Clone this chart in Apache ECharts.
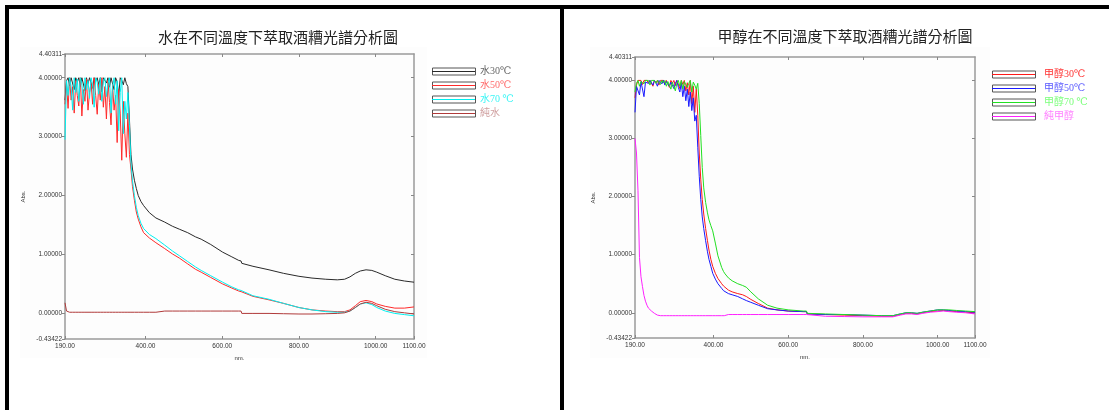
<!DOCTYPE html>
<html>
<head>
<meta charset="utf-8">
<script src="https://cdn.jsdelivr.net/npm/echarts@6/dist/echarts.min.js"></script>
<style>
html,body{margin:0;padding:0;background:#fff;}
#c{width:1109px;height:410px;}
</style>
</head>
<body>
<div id="c"></div>
<script>
// ---------- DATA ----------
const titleLeft = '水在不同溫度下萃取酒糟光譜分析圖';
const titleRight = '甲醇在不同溫度下萃取酒糟光譜分析圖';
const namesLeft = ['水30℃', '水50℃', '水70 ℃', '純水'];
const namesRight = ['甲醇30℃', '甲醇50℃', '甲醇70 ℃', '純甲醇'];
const xTickValues = [190, 400, 600, 800, 1000, 1100];
const yTickValues = [-0.43422, 0, 1, 2, 3, 4, 4.40311];
const xMin = 190, xMax = 1100, yMin = -0.43422, yMax = 4.40311;

// wavelength grid (nm) of the saturated / noisy region, shared by both panels
const waveNoise = [190,194,198,202,206,210,214,218,222,226,230,234,238,242,246,250,254,258,262,266,270,274,278,282,286,290,294,298,302,306,310,314,318,322,326,330,334,338,342,346,350,354];
// wavelength grids of the decaying part
const waveTailL = [358,362,366,371,376,381,388,395,410,427,429,431,450,470,488,510,530,545,570,601,625,643,649,651,680,722,760,800,834,870,900,919,933,947,960,975,990,1003,1025,1050,1075,1100];
const waveTailR = [358,362,366,370,374,379,384,388,393,398,405,412,422,427,429,431,440,450,465,478,488,500,520,545,570,600,640,649,651,700,750,800,850,880,900,915,930,945,960,980,1000,1015,1030,1050,1075,1100];

// left panel: water extraction
const water30Noise = [3.62,3.95,4.00,3.86,4.00,3.98,3.80,4.00,3.93,4.00,3.85,4.00,3.97,3.78,4.00,3.90,4.00,3.99,3.82,4.00,3.95,4.00,3.88,4.00,3.76,4.00,3.97,3.91,4.00,3.84,4.00,3.99,3.80,4.00,3.93,3.70,4.00,3.96,3.88,4.00,3.90,3.85];
const water30Tail = [3.30,2.70,2.45,2.26,2.12,2.00,1.90,1.83,1.71,1.62,1.61,1.60,1.55,1.48,1.43,1.37,1.30,1.26,1.17,1.04,0.96,0.90,0.89,0.85,0.80,0.74,0.68,0.63,0.60,0.58,0.57,0.58,0.62,0.68,0.72,0.74,0.73,0.70,0.64,0.58,0.55,0.53];
const water50Noise = [3.55,3.90,3.48,4.00,3.62,3.85,3.40,3.95,3.70,3.52,4.00,3.35,3.80,3.60,3.98,3.45,3.75,3.92,3.55,4.00,3.70,3.38,3.90,3.62,4.00,3.50,3.85,3.30,3.95,3.58,3.20,3.88,3.45,3.70,2.90,3.80,3.40,2.60,3.60,3.05,2.65,3.40];
const water50Tail = [2.70,2.45,2.15,1.92,1.72,1.60,1.47,1.37,1.28,1.20,1.19,1.18,1.10,1.01,0.94,0.84,0.75,0.70,0.61,0.50,0.43,0.38,0.37,0.34,0.29,0.23,0.17,0.10,0.06,0.04,0.03,0.03,0.06,0.13,0.20,0.22,0.20,0.16,0.12,0.09,0.09,0.11];
const water70Noise = [2.95,3.95,3.70,4.00,3.85,3.45,4.00,3.75,3.98,3.60,4.00,3.90,3.55,4.00,3.80,3.95,3.65,4.00,3.88,3.50,4.00,3.92,3.72,4.00,3.60,3.95,4.00,3.68,3.90,4.00,3.40,3.85,4.00,3.55,3.95,3.10,3.75,4.00,3.05,3.60,3.30,3.75];
const water70Tail = [3.20,2.55,2.25,2.00,1.80,1.66,1.53,1.44,1.34,1.27,1.26,1.25,1.16,1.06,0.98,0.88,0.79,0.73,0.64,0.53,0.45,0.40,0.39,0.36,0.30,0.24,0.17,0.10,0.06,0.03,0.02,0.02,0.04,0.10,0.16,0.18,0.15,0.10,0.04,0.00,-0.02,-0.04];
const pureWaterNoise = [0.18,0.04,0.03,0.02,0.02,0.02,0.02,0.02,0.02,0.02,0.02,0.02,0.02,0.02,0.02,0.02,0.02,0.02,0.02,0.02,0.02,0.02,0.02,0.02,0.02,0.02,0.02,0.02,0.02,0.02,0.02,0.02,0.02,0.02,0.02,0.02,0.02,0.02,0.02,0.02,0.02,0.02];
const pureWaterTail = [0.02,0.02,0.02,0.02,0.02,0.02,0.02,0.02,0.02,0.02,0.02,0.04,0.04,0.04,0.04,0.04,0.04,0.04,0.04,0.04,0.04,0.04,0.04,0.00,0.00,0.00,-0.005,-0.01,-0.01,-0.005,0.00,0.01,0.04,0.10,0.16,0.19,0.17,0.13,0.07,0.03,0.01,-0.01];

// right panel: methanol extraction
const meth30Noise = [3.70,3.92,4.00,3.97,4.00,3.93,4.00,3.98,4.00,3.95,4.00,3.99,3.90,4.00,3.96,4.00,3.92,4.00,3.98,4.00,3.94,4.00,3.97,3.88,4.00,3.95,4.00,3.91,4.00,3.97,3.86,4.00,3.93,4.00,3.82,3.96,3.75,4.00,3.60,3.90,3.45,3.85];
const meth30Tail = [3.40,2.75,2.30,1.95,1.70,1.45,1.24,1.08,0.92,0.80,0.68,0.59,0.50,0.46,0.45,0.43,0.39,0.36,0.33,0.31,0.28,0.23,0.16,0.08,0.05,0.03,0.02,0.02,-0.02,-0.03,-0.04,-0.05,-0.06,-0.06,-0.03,-0.01,-0.01,-0.02,0.00,0.02,0.03,0.04,0.03,0.02,0.01,0.00];
const meth50Noise = [3.45,3.90,3.88,3.75,3.98,4.00,3.72,3.97,4.00,3.95,4.00,3.98,3.92,4.00,3.96,3.90,4.00,3.97,3.94,4.00,3.92,3.98,4.00,3.90,3.97,4.00,3.86,3.95,4.00,3.88,3.80,3.96,3.72,3.90,3.65,3.85,3.55,3.80,3.48,3.70,3.30,3.40];
const meth50Tail = [2.85,2.35,1.95,1.65,1.45,1.24,1.05,0.92,0.80,0.68,0.58,0.50,0.42,0.38,0.37,0.36,0.33,0.31,0.28,0.24,0.21,0.18,0.13,0.07,0.05,0.03,0.02,0.02,-0.02,-0.03,-0.03,-0.04,-0.05,-0.05,-0.02,0.00,0.00,-0.01,0.01,0.03,0.05,0.05,0.04,0.03,0.02,0.01];
const meth70Noise = [3.80,3.95,4.00,3.90,3.98,4.00,3.94,4.00,3.97,4.00,3.92,4.00,3.98,4.00,3.95,4.00,3.99,3.93,4.00,3.96,4.00,3.90,3.98,4.00,3.85,3.97,4.00,3.82,3.95,4.00,3.90,4.00,3.85,3.98,4.00,3.88,3.95,4.00,3.80,3.97,3.92,3.85];
const meth70Tail = [3.95,3.60,3.05,2.50,2.15,1.90,1.72,1.60,1.50,1.41,1.20,0.98,0.78,0.71,0.69,0.67,0.60,0.55,0.50,0.47,0.44,0.36,0.24,0.13,0.08,0.05,0.03,0.03,-0.01,-0.02,-0.03,-0.04,-0.05,-0.05,-0.02,0.00,0.00,-0.01,0.01,0.03,0.05,0.05,0.05,0.04,0.03,0.02];
const pureMethNoise = [3.00,2.75,2.10,0.95,0.62,0.45,0.30,0.20,0.13,0.08,0.05,0.03,0.01,-0.01,-0.03,-0.04,-0.045,-0.05,-0.05,-0.05,-0.05,-0.05,-0.05,-0.05,-0.05,-0.05,-0.05,-0.05,-0.05,-0.05,-0.05,-0.05,-0.05,-0.05,-0.05,-0.05,-0.05,-0.05,-0.05,-0.05,-0.05,-0.05];
const pureMethTail = [-0.05,-0.05,-0.05,-0.05,-0.05,-0.05,-0.05,-0.05,-0.05,-0.05,-0.05,-0.05,-0.05,-0.05,-0.05,-0.03,-0.03,-0.03,-0.03,-0.03,-0.03,-0.03,-0.03,-0.03,-0.03,-0.03,-0.03,-0.03,-0.06,-0.06,-0.065,-0.07,-0.07,-0.07,-0.04,-0.02,-0.02,-0.03,-0.01,0.01,0.02,0.03,0.02,0.01,0.00,-0.02];

// ---------- STYLE ----------
const lineColorsL = ['#2a2a2a', '#ff2a2a', '#00f0f0', '#b03a3a'];
const textColorsL = ['#666666', '#ff6a6a', '#3cf5f5', '#d0a0a0'];
const lineColorsR = ['#ff1a1a', '#1a1aff', '#22e022', '#ff22ff'];
const textColorsR = ['#ff3030', '#5a5aff', '#7aff7a', '#ff80ff'];

const cjk = '"Noto Sans CJK TC", "Noto Sans CJK SC", sans-serif';
const serif = '"Liberation Serif", "DejaVu Serif", "Noto Sans CJK TC", serif';
const tickFont = '"Liberation Sans", Arial, sans-serif';
const axisGrey = '#9a9a9a';

function pairs(xs, ys) { return xs.map((x, i) => [x, ys[i]]); }

const panels = [
  { grid: {left: 65, top: 54, width: 349, height: 285}, title: titleLeft, titleX: 278, titleY: 30,
    names: namesLeft, colors: lineColorsL, textColors: textColorsL, legendX: 432, legendY: 65.5, textPad: 0,
    tail: waveTailL,
    values: [water30Noise.concat(water30Tail), water50Noise.concat(water50Tail), water70Noise.concat(water70Tail), pureWaterNoise.concat(pureWaterTail)],
    nameGapY: 39, nameGapX: 14 },
  { grid: {left: 635, top: 57, width: 340, height: 281}, title: titleRight, titleX: 845, titleY: 29,
    names: namesRight, colors: lineColorsR, textColors: textColorsR, legendX: 992, legendY: 68.5, textPad: 4,
    tail: waveTailR,
    values: [meth30Noise.concat(meth30Tail), meth50Noise.concat(meth50Tail), meth70Noise.concat(meth70Tail), pureMethNoise.concat(pureMethTail)],
    nameGapY: 39, nameGapX: 12 }
];

const option = {
  animation: false,
  backgroundColor: '#ffffff',
  title: [], grid: [], xAxis: [], yAxis: [], legend: [], series: [],
  graphic: [
    {type: 'rect', z: -10, shape: {x: 20, y: 47, width: 407, height: 311}, style: {fill: '#fdfdfd'}, silent: true},
    {type: 'rect', z: -10, shape: {x: 590, y: 47, width: 400, height: 311}, style: {fill: '#fdfdfd'}, silent: true},
    {type: 'rect', z: 100, shape: {x: 5, y: 5, width: 1104, height: 4}, style: {fill: '#000'}, silent: true},
    {type: 'rect', z: 100, shape: {x: 5, y: 5, width: 4, height: 405}, style: {fill: '#000'}, silent: true},
    {type: 'rect', z: 100, shape: {x: 560, y: 5, width: 4, height: 405}, style: {fill: '#000'}, silent: true}
  ]
};

panels.forEach((p, k) => {
  option.title.push({
    text: p.title, left: p.titleX, top: p.titleY, textAlign: 'center', padding: 0,
    textStyle: {fontFamily: cjk, fontSize: 15, fontWeight: 'normal', color: '#222'}
  });
  option.grid.push(Object.assign({containLabel: false}, p.grid));
  const lineSt = {color: axisGrey, width: 1.5};
  option.xAxis.push({
    gridIndex: k, type: 'value', min: xMin, max: xMax, position: 'bottom',
    axisLine: {show: true, onZero: false, lineStyle: lineSt},
    axisTick: {show: true, inside: true, length: 3, customValues: xTickValues, lineStyle: {color: '#888', width: 1}},
    axisLabel: {show: true, customValues: xTickValues, formatter: v => Number(v).toFixed(2), fontSize: 6.5, fontFamily: tickFont, color: '#333', margin: 4},
    splitLine: {show: false},
    name: 'nm.', nameLocation: 'middle', nameGap: p.nameGapX, nameTextStyle: {fontSize: 6, fontFamily: tickFont, color: '#333'}
  });
  option.xAxis.push({
    gridIndex: k, type: 'value', min: xMin, max: xMax, position: 'top',
    axisLine: {show: true, onZero: false, lineStyle: lineSt},
    axisTick: {show: true, inside: true, length: 3, customValues: [190, 400, 600, 800, 1000], lineStyle: {color: '#888', width: 1}},
    axisLabel: {show: false}, splitLine: {show: false}
  });
  option.yAxis.push({
    gridIndex: k, type: 'value', min: yMin, max: yMax, position: 'left',
    axisLine: {show: true, onZero: false, lineStyle: lineSt},
    axisTick: {show: true, inside: false, length: 3, customValues: yTickValues, lineStyle: {color: '#888', width: 1}},
    axisLabel: {show: true, customValues: yTickValues, formatter: v => Number(v).toFixed(5), fontSize: 6.5, fontFamily: tickFont, color: '#333', margin: 3},
    splitLine: {show: false},
    name: 'Abs.', nameLocation: 'middle', nameGap: p.nameGapY, nameRotate: 90, nameTextStyle: {fontSize: 6, fontFamily: tickFont, color: '#333'}
  });
  option.yAxis.push({
    gridIndex: k, type: 'value', min: yMin, max: yMax, position: 'right',
    axisLine: {show: true, onZero: false, lineStyle: lineSt},
    axisTick: {show: true, inside: true, length: 3, customValues: [0, 1, 2, 3, 4], lineStyle: {color: '#888', width: 1}},
    axisLabel: {show: false}, splitLine: {show: false}
  });
  // legend frames
  option.legend.push({
    orient: 'vertical', left: p.legendX, top: p.legendY, padding: 0,
    itemWidth: 43, itemHeight: 7, itemGap: 2, selectedMode: false,
    icon: 'rect',
    itemStyle: {color: 'rgba(0,0,0,0)', borderColor: '#555', borderWidth: 1},
    textStyle: {fontSize: 10, lineHeight: 12, fontFamily: serif, color: 'rgba(0,0,0,0)', padding: [0, 0, 0, p.textPad]},
    data: p.names
  });
  // legend coloured lines + labels
  option.legend.push({
    orient: 'vertical', left: p.legendX, top: p.legendY, padding: 0,
    itemWidth: 43, itemHeight: 7, itemGap: 2, selectedMode: false,
    icon: 'path://M0,0H43V1.2H0Z',
    itemStyle: {borderWidth: 0},
    textStyle: {fontSize: 10, lineHeight: 12, fontFamily: serif, padding: [0, 0, 0, p.textPad]},
    data: p.names.map((n, i) => ({name: n, textStyle: {color: p.textColors[i]}}))
  });
  const xs = waveNoise.concat(p.tail);
  p.names.forEach((n, i) => {
    option.series.push({
      name: n, type: 'line', xAxisIndex: 2 * k, yAxisIndex: 2 * k,
      color: p.colors[i], showSymbol: false, symbol: 'none',
      lineStyle: {width: 1, color: p.colors[i]},
      data: pairs(xs, p.values[i]), z: 2 + i
    });
  });
});

const chart = echarts.init(document.getElementById('c'), null, {renderer: 'canvas'});
chart.setOption(option);
</script>
</body>
</html>
